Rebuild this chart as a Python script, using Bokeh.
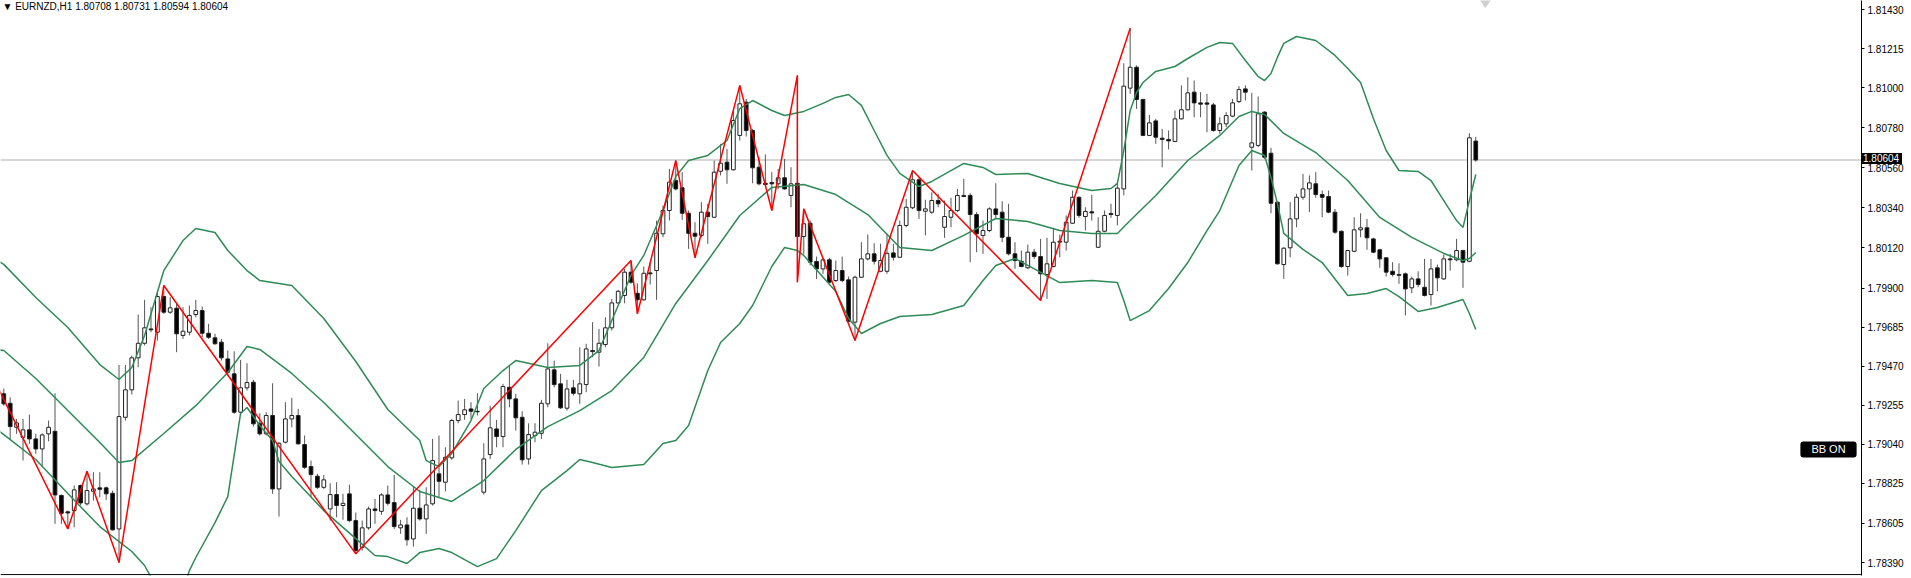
from bokeh.plotting import figure
from bokeh.models import Range1d, FixedTicker, PrintfTickFormatter, Span, Label, ColumnDataSource, Div
from bokeh.layouts import column
from bokeh.embed import file_html
from bokeh.resources import INLINE

header = "\u25bc EURNZD,H1  1.80708 1.80731 1.80594 1.80604"

opens = [1.79318, 1.79266, 1.79134, 1.79079, 1.79120, 1.79070, 1.79015, 1.79098, 1.79112, 1.78759,
         1.78669, 1.78676, 1.78814, 1.78713, 1.78782, 1.78801, 1.78801, 1.78771, 1.78575, 1.79189,
         1.79340, 1.79516, 1.79596, 1.79675, 1.79657, 1.79853, 1.79767, 1.79789, 1.79639, 1.79657,
         1.79754, 1.79776, 1.79651, 1.79626, 1.79602, 1.79510, 1.79428, 1.79217, 1.79351, 1.79382,
         1.79156, 1.79098, 1.79199, 1.78795, 1.79052, 1.79180, 1.79199, 1.79039, 1.78918, 1.78865,
         1.78804, 1.78685, 1.78764, 1.78704, 1.78768, 1.78621, 1.78474, 1.78581, 1.78685, 1.78672,
         1.78762, 1.78720, 1.78581, 1.78597, 1.78520, 1.78689, 1.78630, 1.78713, 1.78878, 1.78832,
         1.78966, 1.79171, 1.79204, 1.79235, 1.79222, 1.78777, 1.78984, 1.79125, 1.79083, 1.79354,
         1.79290, 1.79189, 1.78960, 1.79089, 1.79101, 1.79263, 1.79450, 1.79373, 1.79239, 1.79351,
         1.79318, 1.79369, 1.79556, 1.79547, 1.79589, 1.79681, 1.79818, 1.79859, 1.79987, 1.79871,
         1.79835, 1.79983, 1.79996, 1.80198, 1.80326, 1.80491, 1.80451, 1.80311, 1.80201, 1.80189,
         1.80317, 1.80289, 1.80542, 1.80592, 1.80550, 1.80739, 1.80922, 1.80766, 1.80564, 1.80476,
         1.80480, 1.80473, 1.80506, 1.80409, 1.80476, 1.80183, 1.80256, 1.80046, 1.80005, 1.80055,
         1.79941, 1.79996, 1.79945, 1.79712, 1.79959, 1.80060, 1.80088, 1.79992, 1.79992, 1.80093,
         1.80069, 1.80244, 1.80341, 1.80495, 1.80322, 1.80317, 1.80381, 1.80234, 1.80289, 1.80326,
         1.80409, 1.80409, 1.80304, 1.80189, 1.80216, 1.80335, 1.80317, 1.80179, 1.80088, 1.80047,
         1.80011, 1.80097, 1.80073, 1.79974, 1.80018, 1.80152, 1.80152, 1.80256, 1.80399, 1.80293,
         1.80319, 1.80124, 1.80212, 1.80310, 1.80299, 1.80445, 1.80999, 1.81114, 1.80937, 1.80739,
         1.80819, 1.80724, 1.80717, 1.80706, 1.80830, 1.80880, 1.80977, 1.80918, 1.80918, 1.80907,
         1.80766, 1.80803, 1.80845, 1.80925, 1.80995, 1.80674, 1.80684, 1.80867, 1.80641, 1.80372,
         1.80029, 1.80121, 1.80280, 1.80399, 1.80445, 1.80473, 1.80414, 1.80403, 1.80317, 1.80212,
         1.80018, 1.80102, 1.80220, 1.80231, 1.80170, 1.80110, 1.80066, 1.79992, 1.79974, 1.79978,
         1.79901, 1.79950, 1.79904, 1.79864, 1.80011, 1.79950, 1.80060, 1.80055, 1.80106, 1.80047,
         1.80708]
highs = [1.79347, 1.79299, 1.79180, 1.79180, 1.79204, 1.79098, 1.79101, 1.79171, 1.79321, 1.78765,
         1.78676, 1.78814, 1.78819, 1.78892, 1.78887, 1.78887, 1.78808, 1.78786, 1.79477, 1.79477,
         1.79529, 1.79754, 1.79835, 1.79794, 1.79877, 1.79914, 1.79849, 1.79813, 1.79794, 1.79804,
         1.79835, 1.79798, 1.79703, 1.79648, 1.79620, 1.79556, 1.79552, 1.79505, 1.79486, 1.79395,
         1.79211, 1.79217, 1.79376, 1.79052, 1.79272, 1.79296, 1.79235, 1.79089, 1.78951, 1.78878,
         1.78872, 1.78826, 1.78832, 1.78768, 1.78819, 1.78665, 1.78621, 1.78698, 1.78740, 1.78771,
         1.78814, 1.78872, 1.78625, 1.78639, 1.78808, 1.78790, 1.78804, 1.79070, 1.79089, 1.79024,
         1.79180, 1.79281, 1.79290, 1.79272, 1.79321, 1.79046, 1.79253, 1.79175, 1.79373, 1.79474,
         1.79318, 1.79222, 1.79156, 1.79156, 1.79285, 1.79596, 1.79501, 1.79428, 1.79395, 1.79395,
         1.79574, 1.79593, 1.79712, 1.79675, 1.79739, 1.79840, 1.79890, 1.80005, 1.80051, 1.79926,
         1.80018, 1.80042, 1.80271, 1.80354, 1.80555, 1.80601, 1.80537, 1.80326, 1.80262, 1.80372,
         1.80363, 1.80601, 1.80693, 1.80665, 1.80876, 1.81014, 1.80940, 1.80775, 1.80619, 1.80634,
         1.80537, 1.80555, 1.80610, 1.80564, 1.81069, 1.80335, 1.80271, 1.80073, 1.80066, 1.80066,
         1.80051, 1.80073, 1.79963, 1.79968, 1.80152, 1.80194, 1.80146, 1.80143, 1.80198, 1.80143,
         1.80271, 1.80390, 1.80546, 1.80509, 1.80385, 1.80427, 1.80418, 1.80381, 1.80396, 1.80445,
         1.80500, 1.80421, 1.80317, 1.80271, 1.80344, 1.80476, 1.80377, 1.80363, 1.80152, 1.80106,
         1.80139, 1.80115, 1.80170, 1.80176, 1.80231, 1.80194, 1.80299, 1.80436, 1.80403, 1.80344,
         1.80412, 1.80289, 1.80326, 1.80363, 1.80473, 1.81136, 1.81329, 1.81124, 1.80940, 1.80852,
         1.80830, 1.80775, 1.80766, 1.80876, 1.81014, 1.81059, 1.81041, 1.80977, 1.80968, 1.80918,
         1.80839, 1.80867, 1.80940, 1.81010, 1.81014, 1.80973, 1.80953, 1.80872, 1.80671, 1.80375,
         1.80124, 1.80372, 1.80418, 1.80528, 1.80519, 1.80537, 1.80436, 1.80436, 1.80335, 1.80216,
         1.80110, 1.80289, 1.80311, 1.80280, 1.80176, 1.80115, 1.80069, 1.80042, 1.80036, 1.79985,
         1.79963, 1.79992, 1.80060, 1.80060, 1.80029, 1.80084, 1.80088, 1.80170, 1.80110, 1.80751,
         1.80731]
lows = [1.79253, 1.79070, 1.79098, 1.78951, 1.79043, 1.78988, 1.78914, 1.79057, 1.78603, 1.78603,
        1.78575, 1.78584, 1.78704, 1.78704, 1.78731, 1.78749, 1.78735, 1.78566, 1.78390, 1.79171,
        1.79314, 1.79464, 1.79584, 1.79657, 1.79611, 1.79758, 1.79758, 1.79547, 1.79620, 1.79639,
        1.79739, 1.79629, 1.79620, 1.79589, 1.79501, 1.79428, 1.79208, 1.79208, 1.79336, 1.79138,
        1.79089, 1.79089, 1.78768, 1.78643, 1.79046, 1.79134, 1.79039, 1.78905, 1.78749, 1.78795,
        1.78795, 1.78621, 1.78639, 1.78625, 1.78612, 1.78438, 1.78456, 1.78570, 1.78603, 1.78652,
        1.78704, 1.78575, 1.78548, 1.78483, 1.78478, 1.78621, 1.78548, 1.78704, 1.78749, 1.78782,
        1.78955, 1.79156, 1.79175, 1.79180, 1.79199, 1.78764, 1.78960, 1.79024, 1.79024, 1.79244,
        1.79116, 1.78929, 1.78929, 1.79052, 1.79070, 1.79244, 1.79354, 1.79235, 1.79226, 1.79309,
        1.79263, 1.79327, 1.79519, 1.79468, 1.79574, 1.79666, 1.79813, 1.79816, 1.79923, 1.79758,
        1.79831, 1.79919, 1.79835, 1.80179, 1.80271, 1.80436, 1.80275, 1.80115, 1.80066, 1.80179,
        1.80143, 1.80286, 1.80519, 1.80473, 1.80546, 1.80711, 1.80733, 1.80476, 1.80464, 1.80464,
        1.80326, 1.80445, 1.80440, 1.80344, 1.79932, 1.80088, 1.80024, 1.79950, 1.79978, 1.79926,
        1.79932, 1.79932, 1.79712, 1.79611, 1.79956, 1.80051, 1.80029, 1.79987, 1.79978, 1.80051,
        1.80069, 1.80234, 1.80333, 1.80280, 1.80189, 1.80308, 1.80344, 1.80176, 1.80234, 1.80317,
        1.80399, 1.80042, 1.80097, 1.80088, 1.80207, 1.80280, 1.80152, 1.80079, 1.80005, 1.80014,
        1.80005, 1.80060, 1.79831, 1.79840, 1.80014, 1.80069, 1.80106, 1.80253, 1.80286, 1.80216,
        1.80271, 1.80121, 1.80207, 1.80286, 1.80244, 1.80409, 1.80968, 1.80885, 1.80735, 1.80735,
        1.80693, 1.80564, 1.80662, 1.80702, 1.80827, 1.80876, 1.80839, 1.80839, 1.80757, 1.80760,
        1.80748, 1.80784, 1.80839, 1.80918, 1.80931, 1.80546, 1.80674, 1.80610, 1.80311, 1.80029,
        1.79950, 1.80069, 1.80234, 1.80385, 1.80317, 1.80396, 1.80289, 1.80311, 1.80198, 1.80011,
        1.79968, 1.80097, 1.80179, 1.80110, 1.80091, 1.80011, 1.79963, 1.79963, 1.79923, 1.79749,
        1.79871, 1.79904, 1.79853, 1.79804, 1.79882, 1.79945, 1.79996, 1.80047, 1.79901, 1.80042,
        1.80594]
closes = [1.79263, 1.79138, 1.79158, 1.79120, 1.79070, 1.79015, 1.79092, 1.79134, 1.78762, 1.78661,
          1.78663, 1.78790, 1.78718, 1.78786, 1.78795, 1.78793, 1.78768, 1.78570, 1.79193, 1.79340,
          1.79516, 1.79596, 1.79681, 1.79670, 1.79853, 1.79767, 1.79791, 1.79648, 1.79662, 1.79749,
          1.79776, 1.79651, 1.79629, 1.79593, 1.79516, 1.79437, 1.79217, 1.79351, 1.79380, 1.79153,
          1.79098, 1.79199, 1.78795, 1.79046, 1.79180, 1.79199, 1.79043, 1.78914, 1.78874, 1.78804,
          1.78845, 1.78764, 1.78704, 1.78716, 1.78621, 1.78456, 1.78581, 1.78685, 1.78676, 1.78762,
          1.78716, 1.78588, 1.78597, 1.78515, 1.78689, 1.78630, 1.78707, 1.78951, 1.78837, 1.78969,
          1.79171, 1.79204, 1.79230, 1.79222, 1.79219, 1.78960, 1.79131, 1.79083, 1.79358, 1.79290,
          1.79186, 1.78955, 1.79094, 1.79107, 1.79266, 1.79455, 1.79369, 1.79241, 1.79345, 1.79321,
          1.79373, 1.79565, 1.79550, 1.79596, 1.79681, 1.79818, 1.79882, 1.79987, 1.79932, 1.79835,
          1.79981, 1.79978, 1.80201, 1.80326, 1.80482, 1.80445, 1.80311, 1.80201, 1.80185, 1.80317,
          1.80293, 1.80537, 1.80586, 1.80550, 1.80821, 1.80913, 1.80766, 1.80561, 1.80473, 1.80469,
          1.80473, 1.80506, 1.80445, 1.80473, 1.80183, 1.80253, 1.80042, 1.80005, 1.80055, 1.79932,
          1.79996, 1.79941, 1.79717, 1.79959, 1.80060, 1.80088, 1.80047, 1.80051, 1.80091, 1.80069,
          1.80244, 1.80344, 1.80495, 1.80326, 1.80335, 1.80381, 1.80363, 1.80293, 1.80326, 1.80409,
          1.80403, 1.80304, 1.80198, 1.80216, 1.80335, 1.80304, 1.80179, 1.80088, 1.80051, 1.80018,
          1.80097, 1.80073, 1.79978, 1.80033, 1.80152, 1.80157, 1.80262, 1.80399, 1.80299, 1.80321,
          1.80313, 1.80212, 1.80299, 1.80304, 1.80449, 1.81010, 1.81114, 1.80937, 1.80739, 1.80808,
          1.80729, 1.80717, 1.80709, 1.80830, 1.80880, 1.80973, 1.80918, 1.80911, 1.80911, 1.80766,
          1.80803, 1.80848, 1.80918, 1.80991, 1.80977, 1.80698, 1.80858, 1.80619, 1.80366, 1.80033,
          1.80119, 1.80280, 1.80399, 1.80445, 1.80478, 1.80414, 1.80399, 1.80317, 1.80207, 1.80018,
          1.80106, 1.80220, 1.80231, 1.80176, 1.80097, 1.80060, 1.79987, 1.79974, 1.79970, 1.79895,
          1.79950, 1.79919, 1.79859, 1.80005, 1.79956, 1.80060, 1.80055, 1.80106, 1.80042, 1.80726,
          1.80604]

bb_upper_bar = [-1, 0, 5, 10, 15, 18, 20, 22, 25, 28, 30, 33, 35, 38, 40, 45, 50, 55, 60, 65,
                66, 68, 70, 73, 75, 78, 80, 85, 90, 93, 95, 98, 100, 103, 105, 107, 110, 113, 115, 117,
                120, 122, 125, 128, 130, 132, 134, 136, 138, 140, 143, 145, 150, 153, 155, 160, 165, 170, 173, 174,
                175, 176, 177, 178, 180, 183, 185, 188, 190, 192, 194, 196, 197, 198, 199, 200, 202, 205, 208, 210,
                212, 214, 216, 218, 221, 223, 225, 227, 228, 229, 230]
bb_upper = [1.80050, 1.80030, 1.79848, 1.79683, 1.79479, 1.79397, 1.79463, 1.79639, 1.79996, 1.80161,
            1.80227, 1.80205, 1.80106, 1.79996, 1.79941, 1.79914, 1.79732, 1.79496, 1.79232, 1.79061,
            1.78951, 1.78918, 1.78990, 1.79171, 1.79347, 1.79446, 1.79501, 1.79463, 1.79474, 1.79556,
            1.79721, 1.79969, 1.80079, 1.80326, 1.80513, 1.80601, 1.80629, 1.80711, 1.80887, 1.80931,
            1.80876, 1.80849, 1.80871, 1.80915, 1.80948, 1.80964, 1.80904, 1.80766, 1.80629, 1.80530,
            1.80458, 1.80486, 1.80585, 1.80563, 1.80524, 1.80530, 1.80475, 1.80436, 1.80447, 1.80475,
            1.80656, 1.80876, 1.80975, 1.81030, 1.81091, 1.81118, 1.81162, 1.81223, 1.81250, 1.81245,
            1.81151, 1.81063, 1.81041, 1.81080, 1.81168, 1.81245, 1.81283, 1.81261, 1.81179, 1.81107,
            1.81030, 1.80832, 1.80656, 1.80546, 1.80541, 1.80491, 1.80381, 1.80271, 1.80233, 1.80381,
            1.80524]

bb_mid_bar = [-1, 0, 5, 10, 15, 18, 20, 25, 30, 35, 38, 40, 45, 50, 55, 60, 65, 70, 75, 80,
              85, 90, 95, 100, 105, 110, 115, 120, 125, 130, 135, 140, 145, 150, 155, 160, 165, 170, 174, 176,
              180, 185, 190, 193, 195, 197, 200, 205, 210, 215, 220, 225, 228, 229, 230]
bb_mid = [1.79560, 1.79556, 1.79402, 1.79226, 1.79050, 1.78940, 1.78951, 1.79100, 1.79253, 1.79435,
          1.79578, 1.79562, 1.79430, 1.79270, 1.79094, 1.78918, 1.78781, 1.78726, 1.78841, 1.79012,
          1.79138, 1.79226, 1.79336, 1.79518, 1.79815, 1.80051, 1.80299, 1.80453, 1.80469, 1.80414,
          1.80304, 1.80123, 1.80106, 1.80189, 1.80282, 1.80266, 1.80216, 1.80200, 1.80200, 1.80271,
          1.80409, 1.80601, 1.80739, 1.80843, 1.80871, 1.80854, 1.80750, 1.80645, 1.80491, 1.80288,
          1.80178, 1.80090, 1.80051, 1.80062, 1.80095]

bb_lower_bar = [-1, 0, 5, 10, 15, 20, 22, 25, 28, 29, 30, 33, 35, 37, 38, 40, 42, 43, 45, 50,
                55, 58, 60, 63, 65, 68, 70, 74, 77, 80, 84, 88, 90, 92, 95, 100, 103, 105, 107, 110,
                112, 115, 117, 120, 122, 124, 125, 130, 132, 134, 137, 140, 145, 150, 153, 155, 158, 160, 165, 170,
                174, 175, 176, 179, 182, 185, 188, 190, 193, 195, 197, 198, 199, 200, 203, 206, 210, 213, 216, 218,
                221, 224, 228, 229, 230]
bb_lower = [1.79120, 1.79094, 1.78957, 1.78770, 1.78588, 1.78451, 1.78374, 1.78181, 1.78236, 1.78346,
            1.78418, 1.78610, 1.78753, 1.79210, 1.79243, 1.79144, 1.79061, 1.78946, 1.78863, 1.78676,
            1.78522, 1.78429, 1.78423, 1.78385, 1.78445, 1.78467, 1.78445, 1.78368, 1.78412, 1.78566,
            1.78786, 1.78896, 1.78957, 1.78940, 1.78913, 1.78929, 1.79045, 1.79061, 1.79144, 1.79446,
            1.79600, 1.79705, 1.79804, 1.80018, 1.80123, 1.80106, 1.80079, 1.79881, 1.79732, 1.79650,
            1.79705, 1.79743, 1.79754, 1.79804, 1.79941, 1.80024, 1.80062, 1.80024, 1.79930, 1.79941,
            1.79930, 1.79831, 1.79721, 1.79776, 1.79897, 1.80040, 1.80216, 1.80326, 1.80574, 1.80656,
            1.80629, 1.80508, 1.80365, 1.80200, 1.80112, 1.80040, 1.79859, 1.79870, 1.79897, 1.79853,
            1.79771, 1.79793, 1.79837, 1.79760, 1.79672]

zz_bar = [-2, 10, 13, 18, 25, 55, 98, 99, 105, 108, 115, 120, 124, 124, 125, 133, 142, 162, 176]
zz_price = [1.79430, 1.78575, 1.78892, 1.78390, 1.79914, 1.78438, 1.80051, 1.79758, 1.80601, 1.80066,
            1.81014, 1.80326, 1.81069, 1.79932, 1.80335, 1.79611, 1.80546, 1.79831, 1.81329]

price_ticks = [1.78390, 1.78605, 1.78825, 1.79040, 1.79255, 1.79470, 1.79685, 1.79900,
               1.80120, 1.80340, 1.80560, 1.80780, 1.81000, 1.81215, 1.81430]
last_price = 1.80604
shift_marker_bar = [231.5]
shift_marker_price = [1.81481]

bars = list(range(len(opens)))
src = ColumnDataSource(dict(
    x=bars, o=opens, h=highs, l=lows, c=closes,
    top=[max(a, b) for a, b in zip(opens, closes)],
    bottom=[min(a, b) for a, b in zip(opens, closes)],
    fill=["white" if c >= o else "black" for o, c in zip(opens, closes)],
))

p = figure(frame_width=1861, frame_height=575,
           x_range=Range1d(-0.516, 290.27), y_range=Range1d(1.78319, 1.81481),
           y_axis_location="right", output_backend="svg", toolbar_location=None,
           min_border_left=0, min_border_top=0, min_border_bottom=3, min_border_right=0)
p.xaxis.visible = False
p.xgrid.visible = False
p.ygrid.visible = False
p.outline_line_color = None
p.background_fill_color = "white"
p.border_fill_color = "white"

yax = p.yaxis[0]
yax.ticker = FixedTicker(ticks=price_ticks)
yax.formatter = PrintfTickFormatter(format="%.5f")
yax.major_label_text_font = "Liberation Sans"
yax.major_label_text_font_size = "10px"
yax.major_label_text_color = "#000000"
yax.major_tick_out = 3
yax.major_tick_in = 0
yax.minor_tick_out = 0
yax.minor_tick_in = 0
yax.major_label_standoff = 3
yax.axis_line_color = "#000000"
yax.major_tick_line_color = "#000000"

p.add_layout(Span(location=last_price, dimension="width", line_color="#c8c8c8",
                  line_width=1.5, level="underlay"))
p.add_layout(Span(location=1.78324, dimension="width", line_color="#000000", line_width=1))

p.scatter(shift_marker_bar, shift_marker_price, marker="diamond", size=14,
          fill_color="#d0d0d0", line_color="#d0d0d0")

p.segment(x0="x", y0="l", x1="x", y1="h", source=src, line_color="#555555", line_width=1)
p.vbar(x="x", top="top", bottom="bottom", width=0.58, fill_color="fill",
       line_color="#222222", line_width=1, source=src)

bb_color = "#2e8b57"
p.line(bb_upper_bar, bb_upper, line_color=bb_color, line_width=1.5)
p.line(bb_mid_bar, bb_mid, line_color=bb_color, line_width=1.5)
p.line(bb_lower_bar, bb_lower, line_color=bb_color, line_width=1.5)

p.line(zz_bar, zz_price, line_color="#ff0000", line_width=1.5)

p.add_layout(Label(x=2, y=1.81476, x_units="screen", y_units="data", text=header,
                   text_font="Liberation Sans", text_font_size="10px", text_color="#000000",
                   text_baseline="top", text_align="left"))
p.add_layout(Label(x=1828, y=1.79012, x_units="screen", y_units="data", text="BB ON",
                   text_font="Liberation Sans", text_font_size="11px", text_color="#ffffff",
                   text_baseline="middle", text_align="center",
                   background_fill_color="#000000", padding=(11, 2), border_radius=3))

price_tag = Div(text="%.5f" % last_price, styles={
    "position": "absolute", "left": "1861px", "top": "153px", "z-index": "10",
    "background-color": "#000000", "color": "#ffffff", "font-family": "Liberation Sans",
    "font-size": "10px", "line-height": "11px", "padding": "0px 3px 0px 2px",
    "margin": "0px", "white-space": "nowrap"})

page = column(p, price_tag, spacing=0)
open("out.html", "w").write(file_html(page, INLINE))
